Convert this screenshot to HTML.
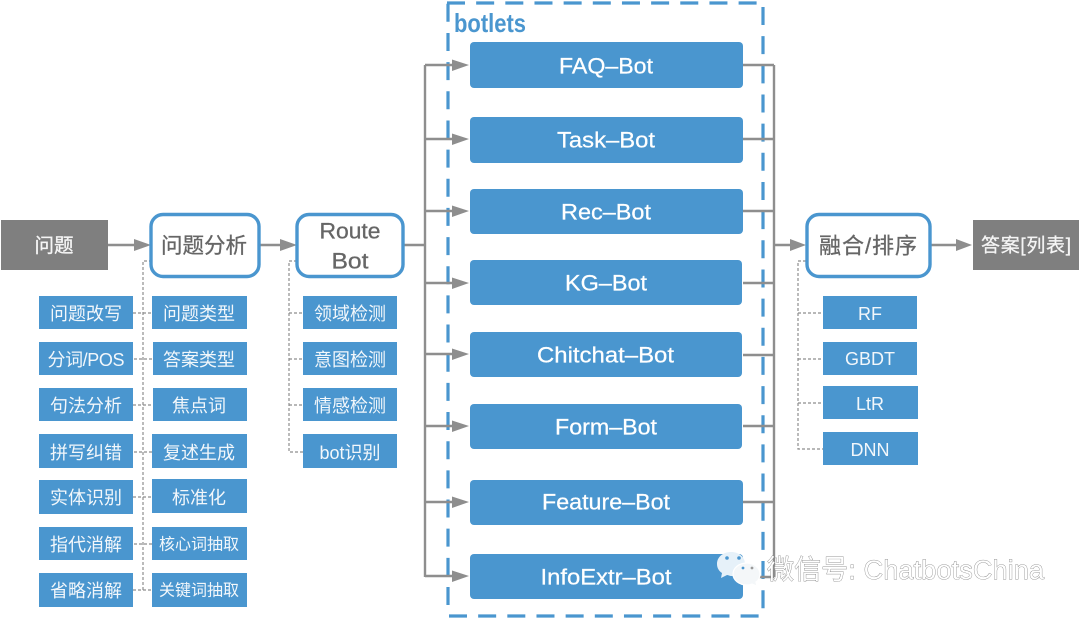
<!DOCTYPE html>
<html><head><meta charset="utf-8">
<style>
html,body{margin:0;padding:0;background:#fff;width:1080px;height:618px;overflow:hidden}
svg{display:block}
text{font-family:"Liberation Sans","Noto Sans CJK SC",sans-serif;text-anchor:middle;dominant-baseline:central}
.b{fill:#4a96cf}
.w{fill:#f2f7fb;font-size:18px}
.bt{fill:#fff;font-size:22.5px;stroke:#fff;stroke-width:.25px}
.n{fill:#fff;stroke:#4a96cf;stroke-width:3.4}
.g{stroke:#8e8e8e;stroke-width:2.4;fill:none}
.d{stroke:#8e8e8e;stroke-width:1.2;fill:none;stroke-dasharray:3 2}
.a{fill:#8e8e8e}
.t{fill:#666;font-size:22px;stroke:#666;stroke-width:.3px}
.f{fill:none;stroke:#4a96cf;stroke-width:3.2;stroke-dasharray:18 11.16}
</style></head><body>
<svg width="1080" height="618" viewBox="0 0 1080 618" xmlns="http://www.w3.org/2000/svg">
<!-- botlets frame -->
<path class="f" d="M447 3H757"/>
<path class="f" d="M448 3.800V606"/>
<path class="f" d="M763 7V609"/>
<path class="f" d="M449 616H760"/>
<text x="490" y="23" style="font-size:26px;font-weight:bold;fill:#4a96cf" textLength="72" lengthAdjust="spacingAndGlyphs">botlets</text>

<!-- dotted connectors -->
<path class="d" d="M152 261H143V590M133 313H152M134 359H152M133 405H152M134 452H152M133 497H152M134 544H152M133 590H152"/>
<path class="d" d="M297 261H289V452H303M289 313H303M289 359H303M289 405H303"/>
<path class="d" d="M806 261H798V449H823M798 313H823M798 359H823M798 403H823"/>

<!-- bots -->
<g class="b">
<rect x="470" y="42" width="273" height="46" rx="4"/>
<rect x="470" y="117" width="273" height="46" rx="4"/>
<rect x="470" y="189" width="273" height="45" rx="4"/>
<rect x="470" y="260" width="272" height="45" rx="4"/>
<rect x="470" y="332" width="272" height="45" rx="4"/>
<rect x="470" y="404" width="272" height="45" rx="4"/>
<rect x="470" y="480" width="273" height="45" rx="4"/>
<rect x="470" y="554" width="273" height="45" rx="4"/>
</g>
<g>
<text class="bt" x="606" y="66" textLength="94" lengthAdjust="spacingAndGlyphs">FAQ–Bot</text>
<text class="bt" x="606" y="140" textLength="98" lengthAdjust="spacingAndGlyphs">Task–Bot</text>
<text class="bt" x="606" y="212" textLength="90" lengthAdjust="spacingAndGlyphs">Rec–Bot</text>
<text class="bt" x="606" y="283" textLength="82" lengthAdjust="spacingAndGlyphs">KG–Bot</text>
<text class="bt" x="605.500" y="355" textLength="137" lengthAdjust="spacingAndGlyphs">Chitchat–Bot</text>
<text class="bt" x="606" y="427" textLength="102" lengthAdjust="spacingAndGlyphs">Form–Bot</text>
<text class="bt" x="606" y="502" textLength="128" lengthAdjust="spacingAndGlyphs">Feature–Bot</text>
<text class="bt" x="606" y="577" textLength="131" lengthAdjust="spacingAndGlyphs">InfoExtr–Bot</text>
</g>

<!-- solid connectors -->
<path class="g" d="M108 245H136M259 245H282M404 245H425M425 65V577M425 65H454M425 139H454M425 211H454M425 283H454M425 354H454M425 426H454M425 502H454M425 576H454"/>
<path class="g" d="M743 65H774M743 139H774M743 211H774M743 283H774M743 355H774M743 426H774M743 502H774M743 577H774M774 65V577M774 245H792M930 245H958"/>
<g class="a">
<path d="M134 239L151 245L134 251Z"/>
<path d="M280 239L297 245L280 251Z"/>
<path d="M452 59.500L469 65L452 71Z"/>
<path d="M452 133.500L469 139L452 145Z"/>
<path d="M452 205.500L469 211L452 217Z"/>
<path d="M452 277.500L469 283L452 289Z"/>
<path d="M452 348.500L469 354L452 360Z"/>
<path d="M452 420.500L469 426L452 432Z"/>
<path d="M452 496.500L469 502L452 508Z"/>
<path d="M452 570.500L469 576L452 582Z"/>
<path d="M790 239L806 245L790 251Z"/>
<path d="M956 239L972 245L956 251Z"/>
</g>

<!-- end boxes -->
<rect x="1" y="220" width="107" height="50" fill="#7f7f7f"/>
<text x="54" y="246" style="font-size:19.500px;fill:#f5f5f5;stroke:#f5f5f5;stroke-width:.3px">问题</text>
<rect x="973" y="220" width="106" height="50" fill="#7f7f7f"/>
<text x="1026" y="246" style="font-size:19px;fill:#f5f5f5;stroke:#f5f5f5;stroke-width:.3px" textLength="90">答案[列表]</text>

<!-- nodes -->
<rect class="n" x="151" y="214.500" width="108" height="62" rx="12"/>
<text class="t" x="204" y="246" style="font-size:21.500px">问题分析</text>
<rect class="n" x="297" y="214.500" width="106" height="62" rx="12"/>
<text class="t" x="350" y="231" textLength="61" lengthAdjust="spacingAndGlyphs">Route</text>
<text class="t" x="350" y="261" textLength="37" lengthAdjust="spacingAndGlyphs">Bot</text>
<rect class="n" x="807" y="214.500" width="123" height="62" rx="12"/>
<text class="t" x="868" y="246" textLength="98">融合/排序</text>

<!-- lists -->
<g class="b">
<rect x="39" y="296" width="94" height="33"/>
<rect x="39" y="342" width="94" height="33"/>
<rect x="39" y="388" width="94" height="33"/>
<rect x="39" y="434" width="94" height="34"/>
<rect x="39" y="480" width="94" height="34"/>
<rect x="39" y="527" width="94" height="33"/>
<rect x="39" y="573" width="94" height="34"/>
<rect x="152" y="296" width="95" height="33"/>
<rect x="153" y="342" width="94" height="33"/>
<rect x="153" y="388" width="94" height="33"/>
<rect x="152" y="434" width="95" height="34"/>
<rect x="152" y="479" width="95" height="34"/>
<rect x="152" y="527" width="95" height="33"/>
<rect x="152" y="573" width="95" height="34"/>
<rect x="303" y="296" width="94" height="33"/>
<rect x="303" y="342" width="94" height="33"/>
<rect x="303" y="388" width="94" height="33"/>
<rect x="303" y="434" width="94" height="34"/>
<rect x="823" y="296" width="94" height="33"/>
<rect x="823" y="342" width="94" height="33"/>
<rect x="823" y="386" width="95" height="33"/>
<rect x="823" y="432" width="95" height="33"/>
</g>
<g class="w" transform="translate(0,1)">
<text x="86" y="313">问题改写</text>
<text x="86" y="359" textLength="77">分词/POS</text>
<text x="86" y="405">句法分析</text>
<text x="86" y="452">拼写纠错</text>
<text x="86" y="497">实体识别</text>
<text x="86" y="544">指代消解</text>
<text x="86" y="590">省略消解</text>
<text x="199" y="313">问题类型</text>
<text x="199" y="359">答案类型</text>
<text x="199" y="405">焦点词</text>
<text x="199" y="452">复述生成</text>
<text x="199" y="497">标准化</text>
<text x="199" y="544" style="font-size:16px">核心词抽取</text>
<text x="199" y="590" style="font-size:16px">关键词抽取</text>
<text x="350" y="313">领域检测</text>
<text x="350" y="359">意图检测</text>
<text x="350" y="405">情感检测</text>
<text x="350" y="452">bot识别</text>
<text x="870" y="313">RF</text>
<text x="870" y="358">GBDT</text>
<text x="870" y="403">LtR</text>
<text x="870" y="449">DNN</text>
</g>

<!-- watermark -->
<g>
<path d="M731 552c-8 0-14 5-14 12 0 4 2 7 5 9l-1 5 6-3c1 0 3 1 4 1 8 0 14-5 14-12s-6-12-14-12z" fill="#e6f1f9"/>
<circle cx="727" cy="558" r="1.800" fill="#4a96cf"/><circle cx="739" cy="558" r="1.800" fill="#4a96cf"/>
<path d="M747 563c-8 0-14 5-14 11s6 11 14 11c2 0 3 0 5-1l5 2-1-4c3-2 4-5 4-8 0-6-6-11-13-11z" fill="#f4f7f9" stroke="#fff" stroke-width="1.200"/>
<circle cx="743" cy="568" r="1.400" fill="#4a96cf"/><circle cx="752" cy="568" r="1.400" fill="#9a9a9a"/>
</g>
<text x="767" y="570" style="text-anchor:start;font-size:27px;fill:#fff;stroke:#777;stroke-width:.7px;paint-order:stroke" textLength="277">微信号: ChatbotsChina</text>
</svg>
</body></html>
